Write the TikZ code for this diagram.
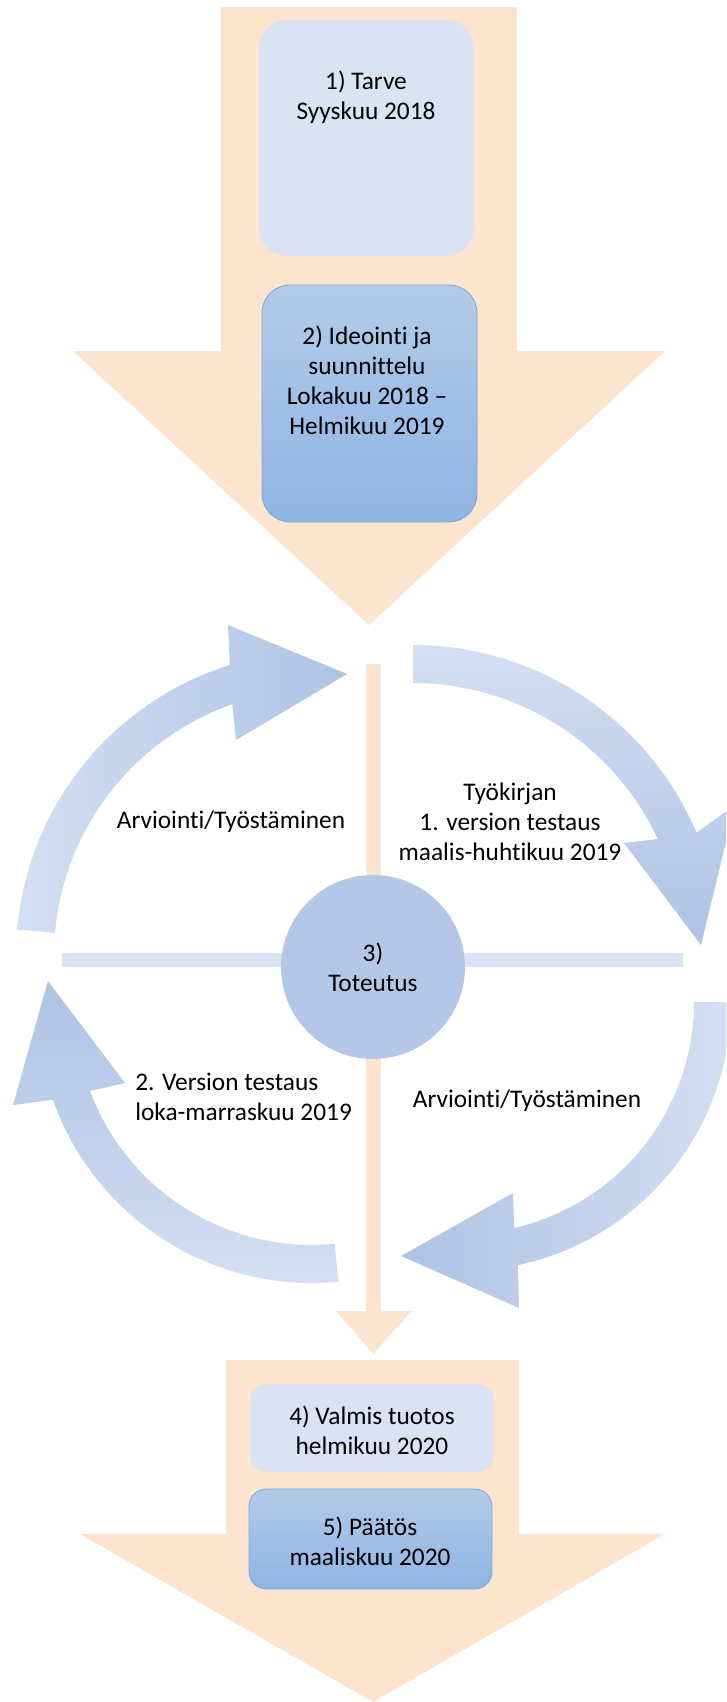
\documentclass[tikz,border=0pt]{standalone}
\usepackage{fontspec}
\setmainfont{Carlito}[Ligatures={TeX,NoCommon}]
\usetikzlibrary{arrows.meta}
\definecolor{peach}{HTML}{FCE4CF}
\definecolor{boxlight}{HTML}{DAE3F3}
\definecolor{boxtop}{HTML}{B3CBE9}
\definecolor{boxbot}{HTML}{8EB4E3}
\definecolor{boxedge}{HTML}{7FA8DA}
\definecolor{circblue}{HTML}{B4C7E7}
\definecolor{barblue}{HTML}{DAE3F3}
\definecolor{cyclight}{HTML}{D3DFF1}
\definecolor{cycdark}{HTML}{AEC3E5}

\begin{document}
\begin{tikzpicture}[x=0.75pt,y=-0.75pt,
  lbl/.style={font=\fontsize{19}{22.5}\selectfont,align=center,inner sep=0pt},
  darkbox/.style={top color=boxtop,bottom color=boxbot,draw=boxedge,line width=0.6pt}]
  \useasboundingbox (0,0) rectangle (726,1702);
  \clip (0,0) rectangle (726,1702);

  % big arrows
  \fill[peach] (221,7) -- (517,7) -- (517,351) -- (665,351) -- (369,625) -- (73,351) -- (221,351) -- cycle;
  \fill[peach] (226,1360) -- (519,1360) -- (519,1534) -- (665,1534) -- (373,1702) -- (80,1534) -- (226,1534) -- cycle;

  % boxes
  \fill[boxlight,rounded corners=21pt] (259,20) rectangle (474,256);
  \path[darkbox,rounded corners=21pt] (262,285) rectangle (477,522);
  \fill[boxlight,rounded corners=13pt] (250,1384) rectangle (494,1472);
  \path[darkbox,rounded corners=13pt] (249,1489) rectangle (492,1589);

  \node[lbl] (tarve) at (366,97) {1) Tarve\\Syyskuu 2018};
  \node[lbl] (ideointi) at (367,380) {2) Ideointi ja\\suunnittelu\\Lokakuu 2018 –\\Helmikuu 2019};
  \node[lbl] (valmis) at (372,1430) {4) Valmis tuotos\\helmikuu 2020};
  \node[lbl] (paatos) at (370,1541) {5) Päätös\\maaliskuu 2020};

  % cross
  \coordinate (vtop) at (373.5,664);
  \coordinate (vend) at (373.5,1354);
  \coordinate (hl) at (62,960);
  \coordinate (hr) at (683,960);
  \draw[peach,line width=11.25pt,-{Triangle[width=54.75pt,length=32.25pt]}] (vtop) -- (vend);
  \draw[barblue,line width=10.5pt] (hl) -- (hr);

  % cycle arrows
  \shade[left color=cyclight,right color=cycdark]
    plot[domain=185:252.6,samples=40,variable=\t] ({321+305*cos(\t)},{956+305*sin(\t)})
    -- (228,625) -- (347,674) -- (236,740)
    -- plot[domain=250.6:185,samples=40,variable=\t] ({321+267*cos(\t)},{956+267*sin(\t)}) -- cycle;
  \shade[top color=cyclight,bottom color=cycdark]
    plot[domain=270:337,samples=40,variable=\t] ({413+308*cos(\t)},{953+308*sin(\t)})
    -- (735,805) -- (701,945) -- (624,843)
    -- plot[domain=335:270,samples=40,variable=\t] ({413+270*cos(\t)},{953+270*sin(\t)}) -- cycle;
  \shade[left color=cycdark,right color=cyclight]
    plot[domain=0:78,samples=40,variable=\t] ({462+269*cos(\t)},{1002+269*sin(\t)})
    -- (519,1308) -- (401,1256) -- (513,1193)
    -- plot[domain=77:0,samples=40,variable=\t] ({462+232*cos(\t)},{1002+232*sin(\t)}) -- cycle;
  \shade[top color=cycdark,bottom color=cyclight]
    plot[domain=84.5:160.5,samples=40,variable=\t] ({312+275*cos(\t)},{1008+275*sin(\t)})
    -- (13,1105) -- (48,981) -- (125,1083)
    -- plot[domain=159.5:84.5,samples=40,variable=\t] ({312+237*cos(\t)},{1008+237*sin(\t)}) -- cycle;

  \node[circle,fill=circblue,minimum size=138pt,lbl] (impl) at (373,967) {3)\\Toteutus};

  \node[lbl] (arv1) at (231,822) {Arviointi/Työstäminen};
  \node[lbl] (testaus1) at (510,822) {Työkirjan\\1. version testaus\\maalis-huhtikuu 2019};
  \node[lbl,anchor=west,align=left] (testaus2) at (135,1097) {2. Version testaus\\loka-marraskuu 2019};
  \node[lbl] (arv2) at (527,1101) {Arviointi/Työstäminen};
\end{tikzpicture}
\end{document}
